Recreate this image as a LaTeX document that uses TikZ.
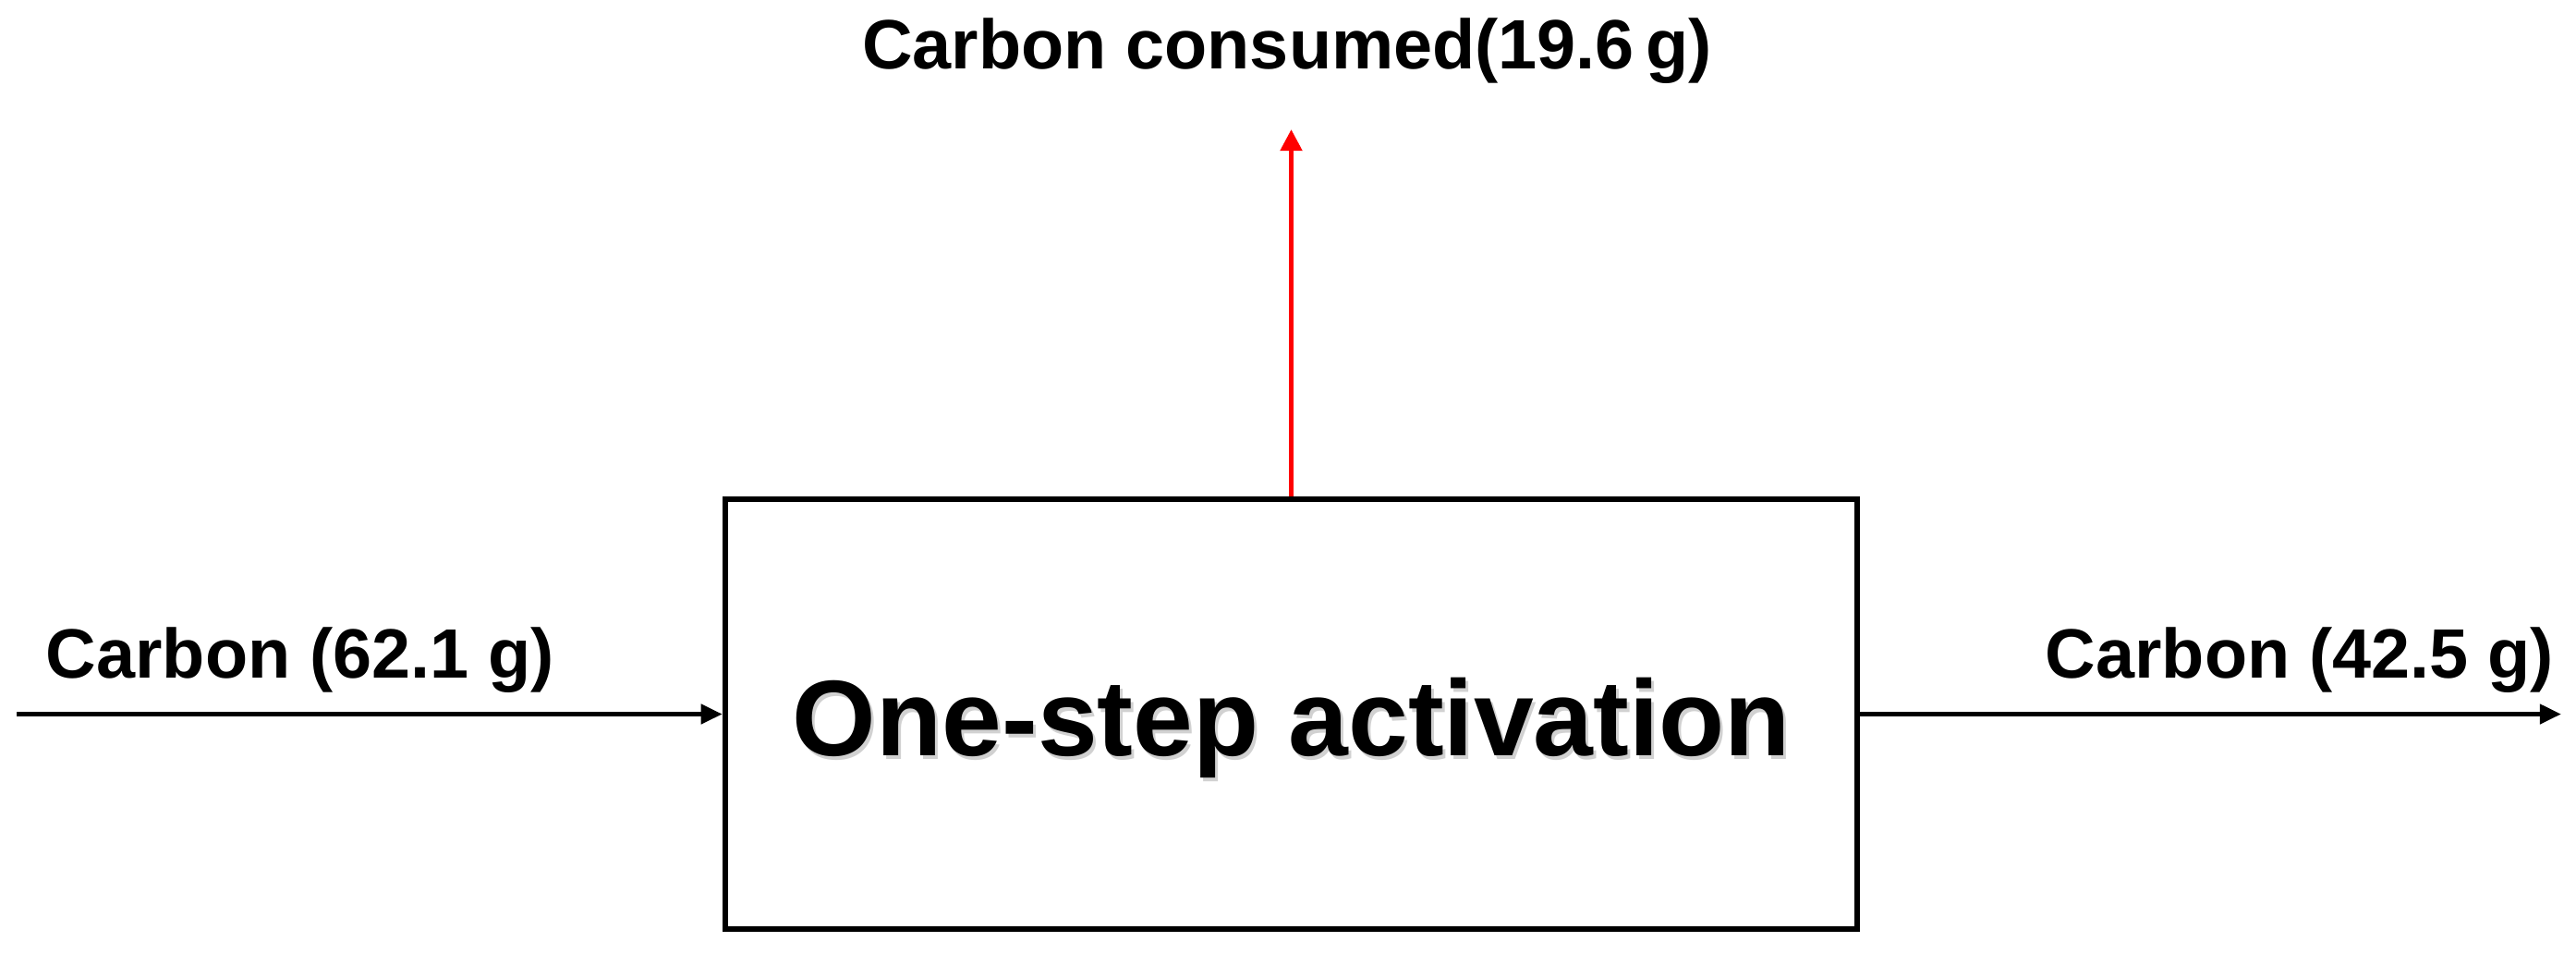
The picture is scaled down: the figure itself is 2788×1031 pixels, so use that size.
\documentclass[tikz,border=0pt]{standalone}
\usepackage{fontspec}
\setmainfont{Liberation Sans}
\usetikzlibrary{arrows.meta}
\begin{document}
\begin{tikzpicture}[x=0.25pt,y=-0.25pt,
  flow/.style={line width=1.3pt,-{Triangle[length=5.8pt,width=5.2pt]}},
  redflow/.style={flow,draw=red,line width=1.2pt,-{Triangle[length=5.8pt,width=5.8pt]}},
  lbl/.style={inner sep=0pt,font=\fontsize{18.9pt}{22pt}\selectfont\bfseries},
  bigtxt/.style={inner sep=0pt,font=\fontsize{29.1pt}{34pt}\selectfont\bfseries},
  procbox/.style={draw,line width=1.6pt,minimum width=306.25pt,minimum height=116.25pt,inner sep=0pt}]
\useasboundingbox[fill=white] (0,0) rectangle (2788,1031);
\node[procbox] (box) at (1397.5,772.5) {};
\node[bigtxt,text=black!18,anchor=base] (titleshadow) at (1401,821) {One-step activation};
\node[bigtxt,anchor=base] (title) at (1398,817) {One-step activation};
\coordinate (inStart) at (18,772.5);
\coordinate (outEnd) at (2772,772.5);
\coordinate (upEnd) at (1397.5,140);
\draw[flow] (inStart) -- (box.west);
\draw[flow] (box.east) -- (outEnd);
\draw[redflow] (box.north) -- (upEnd);
\node[lbl,anchor=base west] (inlbl) at (49,733) {Carbon (62.1 g)};
\node[lbl,anchor=base east] (outlbl) at (2765,733) {Carbon (42.5 g)};
\node[lbl,anchor=base] (uplbl) at (1393,74) {Carbon consumed(19.6\,g)};
\end{tikzpicture}
\end{document}
